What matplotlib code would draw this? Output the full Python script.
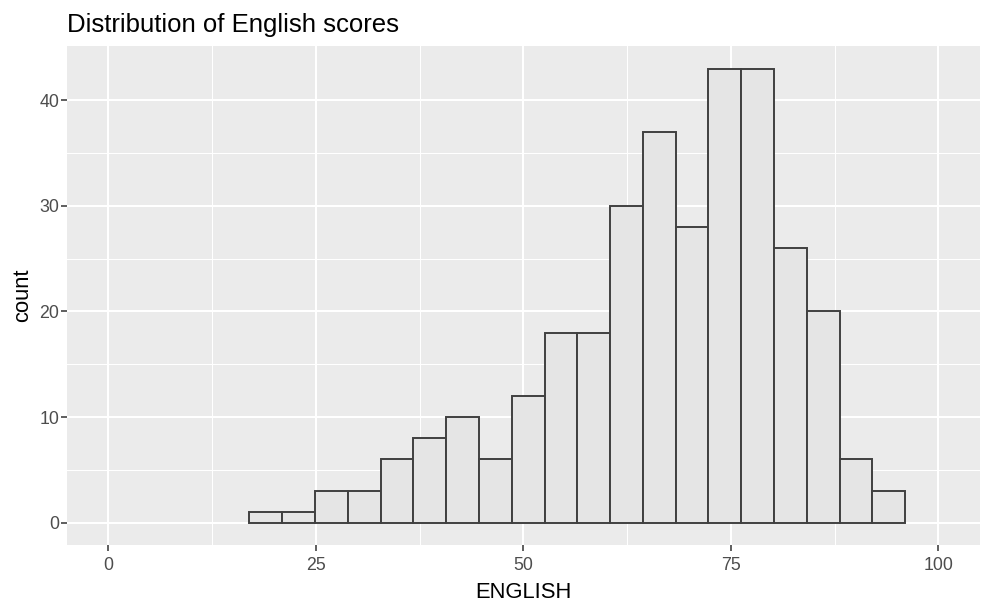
import matplotlib.pyplot as plt
import numpy as np

plt.rcParams['font.family'] = ['Liberation Sans', 'DejaVu Sans']

# histogram bins of English scores (left edges, width ~3.95)
bin_width = 3.95
bin_left = [17 + bin_width * i for i in range(20)]
counts = [1, 1, 3, 3, 6, 8, 10, 6, 12, 18, 18, 30, 37, 28, 43, 43, 26, 20, 6, 3]

x_ticks = [0, 25, 50, 75, 100]
y_ticks = [0, 10, 20, 30, 40]

fig = plt.figure(figsize=(9.91, 6.12), dpi=100)
ax = fig.add_axes([0.0673, 0.109, 0.9216, 0.8158])
ax.set_facecolor("#EBEBEB")

ax.bar(bin_left, counts, width=bin_width, align="edge",
       color="#E5E5E5", edgecolor="#404040", linewidth=1.4, zorder=3)

ax.set_xlim(-5, 105)
ax.set_ylim(-2.15, 45.15)
ax.set_xticks(x_ticks)
ax.set_yticks(y_ticks)
ax.set_xticks([12.5, 37.5, 62.5, 87.5], minor=True)
ax.set_yticks([5, 15, 25, 35], minor=True)
ax.grid(which="major", color="white", linewidth=1.5, zorder=1)
ax.grid(which="minor", color="white", linewidth=0.75, zorder=1)
ax.set_axisbelow(True)
for s in ax.spines.values():
    s.set_visible(False)

ax.tick_params(which="major", length=4, width=1.1, color="#333333",
               labelcolor="#4D4D4D", labelsize=12.8)
ax.tick_params(axis="x", pad=4.5)
ax.tick_params(axis="y", pad=1.5)
ax.tick_params(which="minor", length=0)

ax.set_title("Distribution of English scores", loc="left", fontsize=18.5,
             color="black", pad=10)
ax.set_xlabel("ENGLISH", fontsize=15.8, labelpad=6)
ax.set_ylabel("count", fontsize=15.8, labelpad=4)

plt.savefig("out.png", dpi=100)
